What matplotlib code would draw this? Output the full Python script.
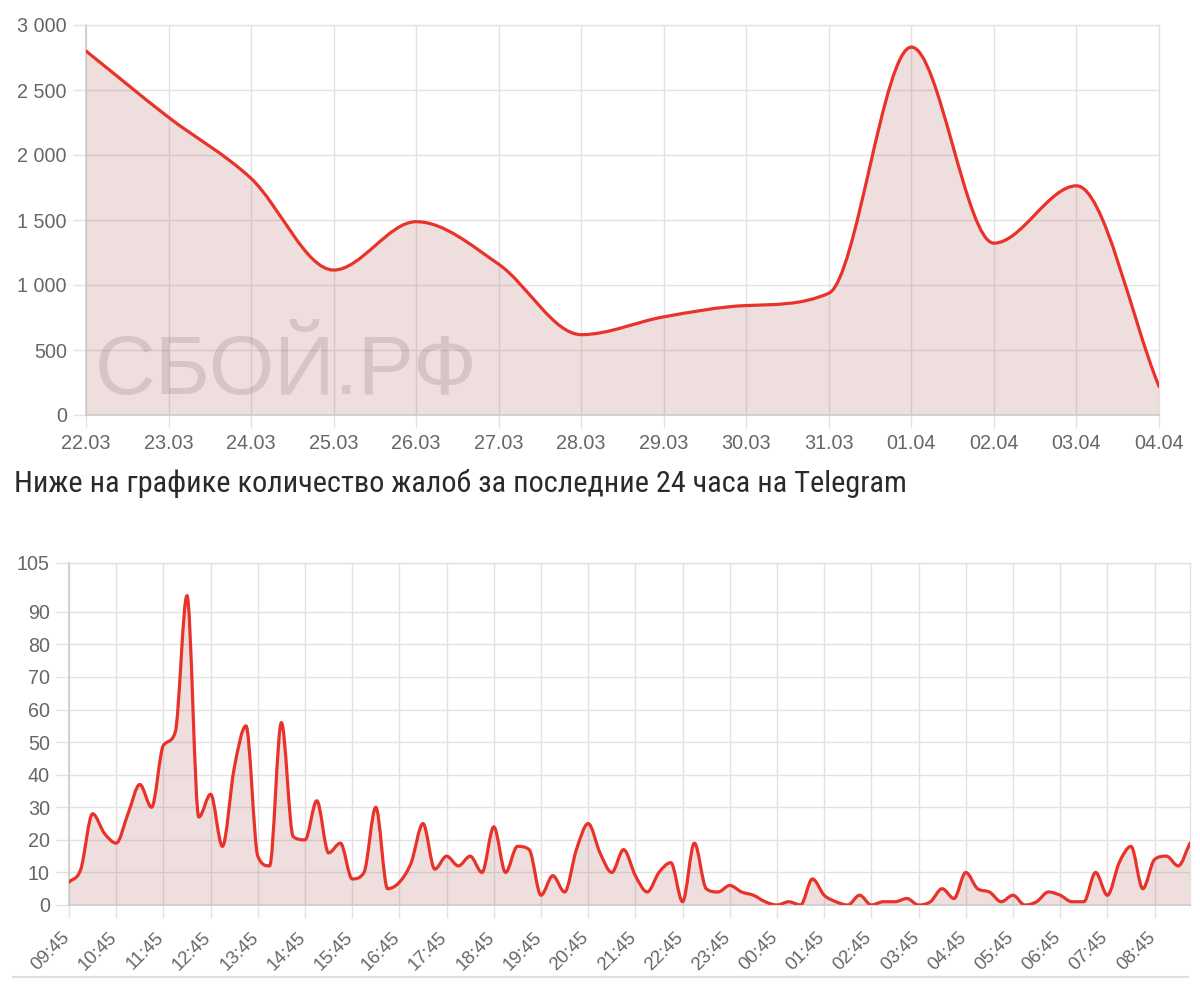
import numpy as np
import matplotlib
matplotlib.use("Agg")
import matplotlib.pyplot as plt
import matplotlib.transforms as mtransforms
from matplotlib.path import Path
from matplotlib.patches import PathPatch
from matplotlib.lines import Line2D
from matplotlib import font_manager

# ---------------- data ----------------
days = ["22.03", "23.03", "24.03", "25.03", "26.03", "27.03", "28.03",
        "29.03", "30.03", "31.03", "01.04", "02.04", "03.04", "04.04"]
daily_reports = [2800, 2290, 1820, 1115, 1487, 1160, 618,
                 755, 842, 937, 2830, 1322, 1763, 220]
top_yticks = [0, 500, 1000, 1500, 2000, 2500, 3000]
top_ylabels = ["0", "500", "1 000", "1 500", "2 000", "2 500", "3 000"]

hour_labels = ["09:45", "10:45", "11:45", "12:45", "13:45", "14:45", "15:45",
               "16:45", "17:45", "18:45", "19:45", "20:45", "21:45", "22:45",
               "23:45", "00:45", "01:45", "02:45", "03:45", "04:45", "05:45",
               "06:45", "07:45", "08:45"]
telegram_reports = [7, 11, 28, 22, 19, 28, 37, 30, 49, 53,
                    95, 27, 34, 18, 42, 55, 15, 12, 56, 21,
                    20, 32, 16, 19, 8, 10, 30, 5, 7, 13,
                    25, 11, 15, 12, 15, 10, 24, 10, 18, 17,
                    3, 9, 4, 17, 25, 16, 10, 17, 9, 4,
                    10, 13, 1, 19, 5, 4, 6, 4, 3, 1,
                    0, 1, 0, 8, 3, 1, 0, 3, 0, 1,
                    1, 2, 0, 1, 5, 2, 10, 5, 4, 1,
                    3, 0, 1, 4, 3, 1, 1, 10, 3, 13,
                    18, 5, 14, 15, 12, 19]
bottom_yticks = [0, 10, 20, 30, 40, 50, 60, 70, 80, 90, 105]
points_per_label = 4

title_text = "Ниже на графике количество жалоб за последние 24 часа на Telegram"
watermark = "СБОЙ.РФ"

# ---------------- style ----------------
LINE = "#e8322a"
FILL = (175/255, 90/255, 90/255, 0.2)
GRID = "#e2e2e2"
AXIS = "#cccccc"
TICKC = "#666666"
W, H = 1200, 985

available = {f.name for f in font_manager.fontManager.ttflist}
BASEFONT = "Liberation Sans" if "Liberation Sans" in available else "DejaVu Sans"
plt.rcParams["font.family"] = [BASEFONT, "DejaVu Sans"]

fig = plt.figure(figsize=(W/100, H/100), dpi=100)


def ax_rect(l, t, r, b):
    return [l/W, 1 - b/H, (r-l)/W, (b-t)/H]


def monotone_curve(xs, ys):
    """Fritsch-Carlson monotone cubic (as in Chart.js 'monotone' mode)."""
    x = np.asarray(xs, float)
    y = np.asarray(ys, float)
    n = len(x)
    dx = np.diff(x)
    delta = np.diff(y) / dx
    m = np.zeros(n)
    m[0] = delta[0]
    m[-1] = delta[-1]
    for k in range(1, n-1):
        if delta[k-1] == 0 or delta[k] == 0 or np.sign(delta[k-1]) != np.sign(delta[k]):
            m[k] = 0
        else:
            m[k] = (delta[k-1] + delta[k]) / 2
    for k in range(n-1):
        if abs(delta[k]) < 1e-12:
            m[k] = m[k+1] = 0
            continue
        a = m[k] / delta[k]
        b = m[k+1] / delta[k]
        tau = a*a + b*b
        if tau > 9:
            t = 3 / np.sqrt(tau)
            m[k] = a * t * delta[k]
            m[k+1] = b * t * delta[k]
    verts = [(x[0], y[0])]
    codes = [Path.MOVETO]
    for k in range(n-1):
        h = dx[k] / 3
        verts += [(x[k] + h, y[k] + m[k]*h),
                  (x[k+1] - h, y[k+1] - m[k+1]*h),
                  (x[k+1], y[k+1])]
        codes += [Path.CURVE4]*3
    return np.array(verts), codes


def draw_series(ax, xs, ys):
    verts, codes = monotone_curve(xs, ys)
    fverts = np.vstack([verts, [[xs[-1], 0], [xs[0], 0], [xs[0], 0]]])
    fcodes = codes + [Path.LINETO, Path.LINETO, Path.CLOSEPOLY]
    ax.add_patch(PathPatch(Path(fverts, fcodes), facecolor=FILL,
                           edgecolor="none", zorder=1))
    ax.add_patch(PathPatch(Path(verts, codes), facecolor="none",
                           edgecolor=LINE, lw=2.3, zorder=4,
                           capstyle="round", joinstyle="round"))


def style_axes(ax):
    ax.set_axisbelow(True)
    ax.grid(True, color=GRID, lw=1.0)
    for s in ("top", "right"):
        ax.spines[s].set_color(GRID)
        ax.spines[s].set_linewidth(1.0)
    for s in ("left", "bottom"):
        ax.spines[s].set_color(AXIS)
        ax.spines[s].set_linewidth(1.2)
    ax.tick_params(colors=GRID, labelcolor=TICKC, labelsize=14.2, width=1.0)


# ---------------- top chart ----------------
ax1 = fig.add_axes(ax_rect(86, 25, 1159, 415))
x1 = np.arange(len(days))
ax1.set_xlim(0, len(days) - 1)
ax1.set_ylim(0, 3000)
ax1.set_xticks(x1)
ax1.set_xticklabels(days)
ax1.set_yticks(top_yticks)
ax1.set_yticklabels(top_ylabels)
style_axes(ax1)
ax1.tick_params(axis="x", length=9.4, pad=4.5)
ax1.tick_params(axis="y", length=9.4, pad=4.3)
draw_series(ax1, x1, daily_reports)

wm = ax1.text(0.008, 0.053, watermark, transform=ax1.transAxes,
              fontsize=64, color="#7a6466", alpha=0.2, zorder=2,
              ha="left", va="baseline", family=[BASEFONT, "DejaVu Sans"])

# ---------------- title ----------------
title_family = None
for cand in ["Roboto Condensed", "Open Sans Condensed", "Roboto"]:
    if cand in available:
        title_family = cand
        break
if title_family is None:
    title_family = BASEFONT
ttl = fig.text(14/W, 1 - 492/H, title_text, fontsize=21, color="#2a2a2a",
               ha="left", va="baseline", family=[title_family, "DejaVu Sans"])

# ---------------- bottom chart ----------------
ax2 = fig.add_axes(ax_rect(69, 563, 1190, 905))
x2 = np.arange(len(telegram_reports))
ax2.set_xlim(0, len(telegram_reports) - 1)
ax2.set_ylim(0, 105)
ax2.set_xticks(np.arange(len(hour_labels)) * points_per_label)
ax2.set_xticklabels(hour_labels, rotation=45, ha="right", va="top",
                    rotation_mode="anchor")
ax2.set_yticks(bottom_yticks)
style_axes(ax2)
ax2.tick_params(axis="x", length=9.4, pad=8.0, labelsize=13.4)
ax2.tick_params(axis="y", length=9.4, pad=4.3)
shift = mtransforms.ScaledTranslation(-8/100, 0, fig.dpi_scale_trans)
for lab in ax2.get_xticklabels():
    lab.set_transform(lab.get_transform() + shift)
draw_series(ax2, x2, telegram_reports)

# bottom separator line
fig.add_artist(Line2D([13/W, 1188/W], [1 - 977/H, 1 - 977/H],
                      color="#e0e0e0", lw=1.6))

# fit title and watermark widths to reference
fig.canvas.draw()
r = fig.canvas.get_renderer()
tw = ttl.get_window_extent(r).width
ttl.set_fontsize(np.clip(21 * 889 / tw, 16, 23.5))
ww = wm.get_window_extent(r).width
wm.set_fontsize(64 * 383 / ww)

fig.savefig("out.png", dpi=100)
